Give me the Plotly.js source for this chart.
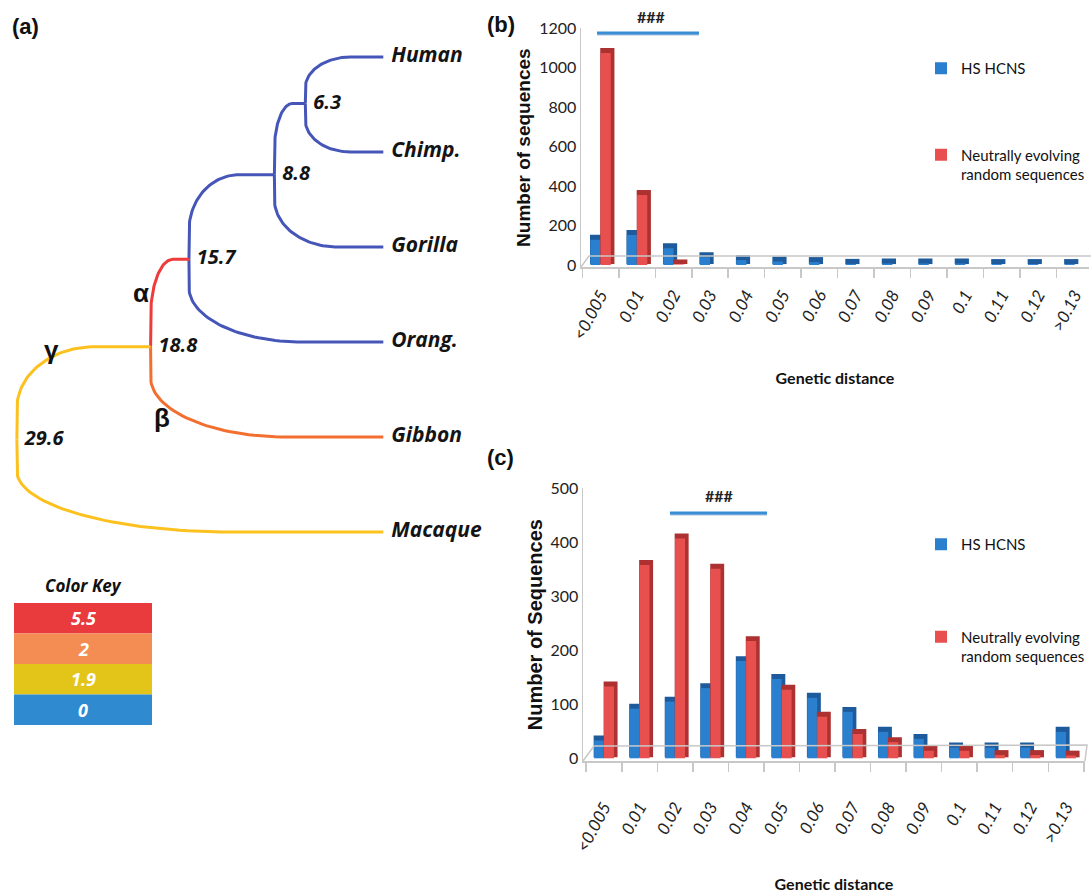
<!DOCTYPE html>
<html><head><meta charset="utf-8">
<script src="https://cdn.plot.ly/plotly-3.0.1.min.js"></script>
<style>
html,body{margin:0;padding:0;background:#fff;overflow:hidden;width:1091px;height:893px}
#wrap{position:fixed;left:0;top:0;width:1091px;height:893px;overflow:hidden}
#chart{width:1091px;height:893px}
</style>
</head><body><div id="wrap"><div id="chart"></div></div>
<script>
// ---------------- data ----------------
const leafNames = ['Human', 'Chimp.', 'Gorilla', 'Orang.', 'Gibbon', 'Macaque'];
const leafRows = [0, 1, 2, 3, 4, 5];
const nodeAges = [6.3, 8.8, 15.7, 18.8, 29.6];
const nodeRows = [0.49, 1.24, 2.13, 3.05, 4.03];
const edgeParents = [0, 0, 1, 1, 2, 2, 3, 3, 4, 4];
const edgeChildren = ['L0', 'L1', 'N0', 'L2', 'N1', 'L3', 'N2', 'L4', 'N3', 'L5'];
const edgeRates = ['0', '0', '0', '0', '0', '0', '5.5', '2', '1.9', '1.9'];
const keyLabels = ['5.5', '2', '1.9', '0'];

const distanceBins = ['<0.005', '0.01', '0.02', '0.03', '0.04', '0.05', '0.06', '0.07', '0.08', '0.09', '0.1', '0.11', '0.12', '>0.13'];
const hcnsB = [128, 152, 85, 40, 25, 18, 15, 6, 8, 8, 8, 5, 5, 5];
const randomB = [1075, 355, 3, 0, 0, 0, 0, 0, 0, 0, 0, 0, 0, 0];
const hcnsC = [33, 92, 105, 130, 180, 147, 112, 86, 49, 36, 20, 20, 20, 49];
const randomC = [133, 358, 407, 351, 217, 127, 77, 45, 30, 14, 14, 6, 6, 5];
const seriesNames = ['HS HCNS', 'Neutrally evolving<br>random sequences'];

// ---------------- style ----------------
const W = 1091, H = 893;
const px = x => x / W, py = y => 1 - y / H;
const excel = "Lato, 'Liberation Sans', Arial, sans-serif";
const sans = "'Liberation Sans', Arial, sans-serif";
const treeFont = "'Open Sans', 'Noto Sans', sans-serif";
const branchColors = {'5.5': '#ee3b3b', '2': '#f36f2f', '1.9': '#fcc11f', '0': '#4656b8'};
const keyColors = {'5.5': '#e93a3d', '2': '#f38d53', '1.9': '#e3c519', '0': '#2f8ad0'};
const blue = '#2b7fcf', blueDark = '#1d5b9c', red = '#e8504f', redDark = '#ad3131';
const axisGray = '#c8c8c8';

function elbow(tp, vp, tc, vc, fx, fy) {
  const up = -tp, uc = -tc;
  const s = Math.sign(vc - vp);
  const rx = fx * (uc - up), ry = fy * Math.abs(vc - vp);
  const cx = up + rx, cy = vc - s * ry;
  const xs = [tp], ys = [vp];
  for (let i = 0; i <= 40; i++) {
    const th = i / 40 * Math.PI / 2;
    xs.push(-(cx - rx * Math.cos(th)));
    ys.push(cy + s * ry * Math.sin(th));
  }
  xs.push(tc); ys.push(vc);
  return {xs, ys};
}

const traces = [];
edgeParents.forEach((p, i) => {
  const c = edgeChildren[i];
  const k = +c.slice(1);
  const isLeaf = c[0] === 'L';
  const tc = isLeaf ? 0 : nodeAges[k];
  const vc = isLeaf ? leafRows[k] : nodeRows[k];
  const e = elbow(nodeAges[p], nodeRows[p], tc, vc, 0.58, 0.66);
  traces.push({type: 'scatter', mode: 'lines', x: e.xs, y: e.ys, xaxis: 'x', yaxis: 'y',
    line: {color: branchColors[edgeRates[i]], width: 3}, showlegend: false, hoverinfo: 'skip'});
});
const hiddenMarker = {size: 11, color: 'rgba(0,0,0,0)'};
traces.push({type: 'scatter', mode: 'markers+text', x: leafRows.map(() => 0), y: leafRows, text: leafNames,
  marker: hiddenMarker, textposition: 'middle right', cliponaxis: false, xaxis: 'x', yaxis: 'y', showlegend: false,
  hoverinfo: 'skip', textfont: {family: treeFont, size: 21, weight: 'bold', style: 'italic', color: '#141414'}});
traces.push({type: 'scatter', mode: 'markers+text', x: nodeAges, y: nodeRows, text: nodeAges.map(v => v.toFixed(1)),
  marker: hiddenMarker, textposition: 'middle right', cliponaxis: false, xaxis: 'x', yaxis: 'y', showlegend: false,
  hoverinfo: 'skip', textfont: {family: treeFont, size: 20, weight: 'bold', style: 'italic', color: '#141414'}});

function addBars(xa, ya, vals, front, dark, offset, width, lift, dx, name, legend, group) {
  // darker extrusion drawn behind the front face (pseudo 3-D), skipped for empty bins
  traces.push({type: 'bar', x: distanceBins, y: vals.map(v => (v > 0 ? v : null)), base: lift, offset: offset + dx,
    width: width, marker: {color: dark, line: {color: dark, width: 4}}, xaxis: xa, yaxis: ya,
    showlegend: false, hoverinfo: 'skip'});
  traces.push({type: 'bar', x: distanceBins, y: vals, offset: offset, width: width, name: name,
    marker: {color: front, line: {width: 0}}, xaxis: xa, yaxis: ya, legend: legend, legendgroup: group});
}
addBars('x2', 'y2', hcnsB, blue, blueDark, -0.28, 0.28, 15, 0.045, seriesNames[0], 'legend', 'b1');
addBars('x2', 'y2', randomB, red, redDark, 0, 0.28, 15, 0.045, seriesNames[1], 'legend', 'b2');
addBars('x3', 'y3', hcnsC, blue, blueDark, -0.28, 0.28, 5.5, 0.045, seriesNames[0], 'legend2', 'c1');
addBars('x3', 'y3', randomC, red, redDark, 0, 0.28, 5.5, 0.045, seriesNames[1], 'legend2', 'c2');

// ---------------- layout ----------------
const shapes = [], annotations = [];
const note = (x, y, text, font, extra) => annotations.push(Object.assign({xref: 'paper', yref: 'paper',
  x: px(x), y: py(y), text, showarrow: false, xanchor: 'center', yanchor: 'middle', font}, extra || {}));
// colour key
const keyTop = 603, keyH = 30.5;
keyLabels.forEach((lab, i) => {
  const y0 = keyTop + i * keyH, y1 = y0 + keyH;
  shapes.push({type: 'rect', xref: 'paper', yref: 'paper', x0: px(14), x1: px(152), y0: py(y1), y1: py(y0),
    fillcolor: keyColors[lab], line: {width: 0}});
  note(83, (y0 + y1) / 2, lab, {family: treeFont, size: 18, weight: 'bold', style: 'italic', color: '#ffffff'});
});
note(83, 585, 'Color Key', {family: treeFont, size: 17, weight: 'bold', style: 'italic', color: '#111'});
// panel letters
[['(a)', 10, 27], ['(b)', 485, 25], ['(c)', 485, 457]].forEach(([t, x, y]) =>
  note(x, y, t, {family: sans, size: 22, weight: 'bold', color: '#111'}, {xanchor: 'left'}));
// greek branch labels (data coords of tree axes)
[['α', 19.6, 2.48], ['β', 17.9, 3.8], ['γ', 26.8, 3.08]].forEach(([t, x, y]) => {
  annotations.push({xref: 'x', yref: 'y', x: x, y: y, text: t, showarrow: false, xanchor: 'center', yanchor: 'middle',
    font: {family: sans, size: 26, weight: 'bold', color: '#111'}});
});
// significance markers
[[597, 699, 33, 651, 28], [670, 767, 513, 719, 507]].forEach(([x0, x1, y, tx, ty]) => {
  shapes.push({type: 'line', xref: 'paper', yref: 'paper', x0: px(x0), x1: px(x1), y0: py(y + 1.5), y1: py(y + 1.5),
    line: {color: '#a9c2dc', width: 2}});
  shapes.push({type: 'line', xref: 'paper', yref: 'paper', x0: px(x0), x1: px(x1), y0: py(y), y1: py(y),
    line: {color: '#3a8fd4', width: 3}});
  note(tx, ty, '###', {family: excel, size: 16, weight: 'bold', color: '#222'}, {yanchor: 'bottom'});
});
// 3-D floors
shapes.push({type: 'path', xref: 'paper', yref: 'paper', line: {color: axisGray, width: 1.5},
  path: `M ${px(581)} ${py(267)} L ${px(589)} ${py(256)} L ${px(1091)} ${py(256)}`});
shapes.push({type: 'path', xref: 'paper', yref: 'paper', line: {color: axisGray, width: 1.5},
  path: `M ${px(583)} ${py(761)} L ${px(594)} ${py(746)} L ${px(1087)} ${py(745)} L ${px(1085)} ${py(761)}`});

const hidden = {visible: false, showgrid: false, zeroline: false, fixedrange: true};
const catAxis = (domain, range, anchor, standoff, labelStandoff) => ({
  domain, range, anchor, type: 'category', showgrid: false, zeroline: false, showline: true, linecolor: axisGray,
  linewidth: 1.5, ticks: 'outside', tickson: 'boundaries', ticklen: 9, tickcolor: axisGray, tickwidth: 1.5,
  tickangle: -62, ticklabelstandoff: labelStandoff,
  tickfont: {family: excel, size: 17, style: 'italic', color: '#222'},
  title: {text: 'Genetic distance', standoff: standoff, font: {family: excel, size: 16, weight: 'bold', color: '#111'}}
});
const valAxis = (domain, range, dtick, anchor, title, size, standoff) => ({
  domain, range, dtick, anchor, showgrid: false, zeroline: false, showline: true, linecolor: axisGray, linewidth: 1.5,
  ticks: '', tickfont: {family: excel, size: 16, color: '#222'},
  title: {text: title, standoff: standoff, font: {family: sans, size: size, weight: 'bold', color: '#111'}}
});

const legendBase = {xanchor: 'left', yanchor: 'top', bgcolor: 'rgba(0,0,0,0)', traceorder: 'grouped',
  valign: 'top', itemwidth: 30, font: {family: excel, size: 15, color: '#111'}};
const layout = {
  width: W, height: H, margin: {l: 0, r: 0, t: 0, b: 0}, paper_bgcolor: '#fff', plot_bgcolor: 'rgba(0,0,0,0)',
  barmode: 'overlay', showlegend: true, hovermode: false,
  xaxis: Object.assign({}, hidden, {domain: [px(5), px(395)], range: [30.56, -0.945], anchor: 'y'}),
  yaxis: Object.assign({}, hidden, {domain: [py(560), py(40)], range: [5.295, -0.179], anchor: 'x'}),
  xaxis2: catAxis([px(581), px(1089)], [-0.537, 13.392], 'y2', 30, 10),
  yaxis2: valAxis([py(267), py(28.3)], [-10, 1200], 200, 'x2', 'Number of sequences', 19, 3),
  xaxis3: catAxis([px(583), px(1085)], [-0.591, 13.534], 'y3', 24, 28),
  yaxis3: valAxis([py(761), py(488.3)], [-5, 500], 100, 'x3', 'Number of Sequences', 20, 2),
  legend: Object.assign({}, legendBase, {x: px(921), y: py(52), tracegroupgap: 64}),
  legend2: Object.assign({}, legendBase, {x: px(921), y: py(528), tracegroupgap: 70}),
  shapes, annotations
};

Plotly.newPlot('chart', traces, layout, {staticPlot: true, displayModeBar: false});
</script></body></html>
